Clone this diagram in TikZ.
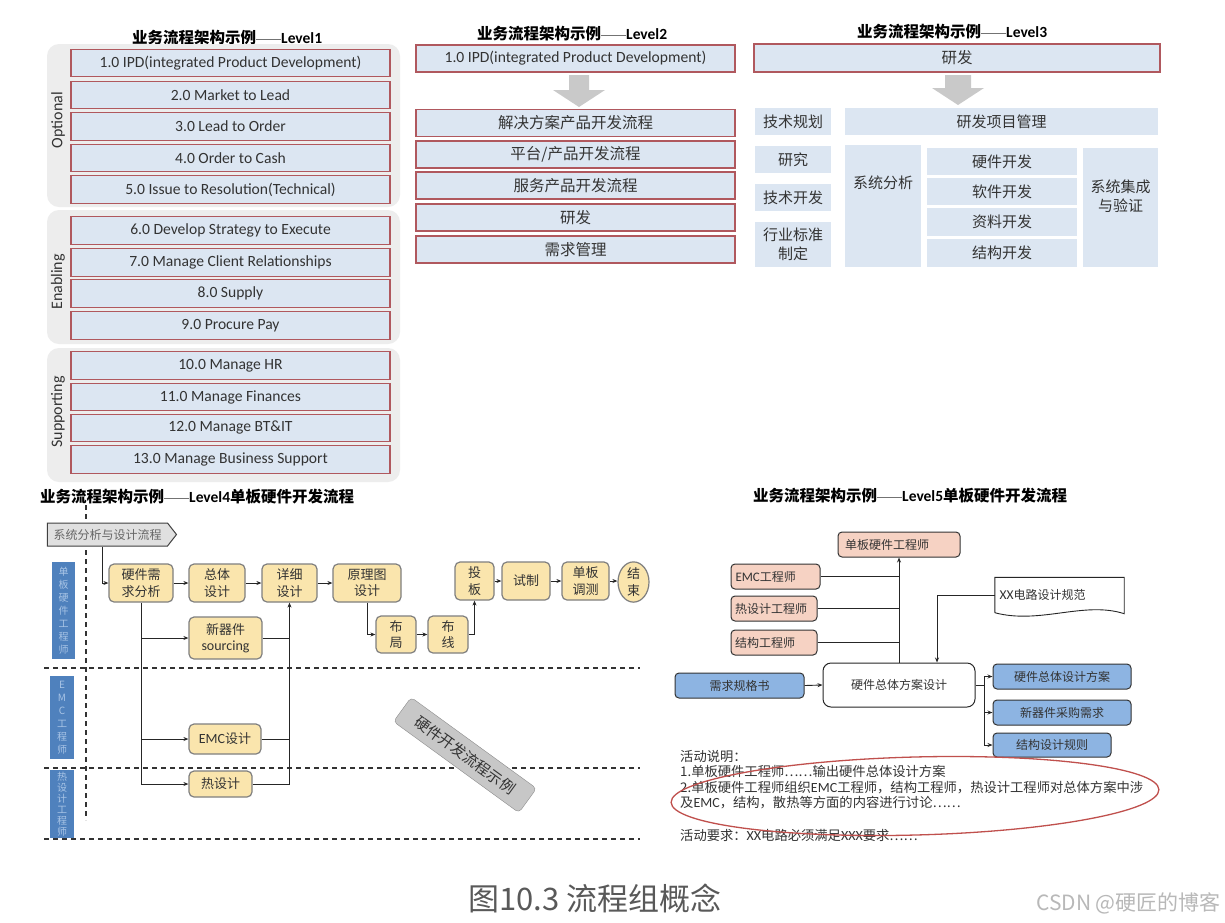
\documentclass[tikz,border=0pt]{standalone}
\usepackage{fontspec}
\setmainfont{Noto Sans CJK SC}
\newfontfamily\lat{Carlito}
\usetikzlibrary{shapes.geometric,shapes.symbols,arrows.meta,calc}

\definecolor{grpbg}{HTML}{EDEDED}
\definecolor{boxblue}{HTML}{DCE6F2}
\definecolor{boxred}{HTML}{B0585E}
\definecolor{arrgray}{HTML}{C9C9C9}
\definecolor{flowfill}{HTML}{FAE5AD}
\definecolor{flowline}{HTML}{7F7F7F}
\definecolor{lanefill}{HTML}{4F81BD}
\definecolor{lanetext}{HTML}{A8C4E6}
\definecolor{pinkfill}{HTML}{F6D2C3}
\definecolor{outblue}{HTML}{8DB4E2}
\definecolor{ellred}{HTML}{C0504D}
\definecolor{txtgray}{HTML}{333333}

\newcommand\fs[2]{\fontsize{#1}{#2}\selectfont}
\newcommand\lvtitle[2]{{\fs{15.5}{18}\bfseries 业务流程架构示例}\textcolor{black!55}{\rule[4.5pt]{25pt}{0.7pt}}{\lat\bfseries\fs{15.5}{18}Level#1}{\fs{15.5}{18}\bfseries #2}}

\begin{document}
\begin{tikzpicture}[x=1pt,y=-1pt,
  title/.style={anchor=west, inner sep=0pt},
  grplabel/.style={rotate=90, font=\lat\fs{16}{18}, text=txtgray, inner sep=0pt},
  l1box/.style={draw=boxred, line width=1.1pt, fill=boxblue, minimum width=319pt,
    minimum height=27.5pt, inner sep=0pt, font=\lat\fs{15.6}{18}, text=txtgray},
  l2box/.style={l1box, font=\fs{15.5}{18}},
  l3blk/.style={fill=boxblue, draw=none, inner sep=0pt, font=\fs{15}{19},
    text=txtgray, align=center},
  flow/.style={draw=flowline, line width=1.2pt, fill=flowfill, rounded corners=5pt,
    inner sep=0pt, font=\fs{13}{16.5}, align=center, text=txtgray},
  lane/.style={fill=lanefill, draw=none, inner sep=0pt, align=center, text=lanetext},
  swim/.style={dashed, dash pattern=on 5pt off 4pt, line width=1.1pt, black!80},
  conn/.style={line width=0.9pt, draw=black!85},
  arr/.style={conn, -{Stealth[length=5pt,width=4pt]}},
  pinkbox/.style={draw=black!80, line width=1pt, fill=pinkfill, rounded corners=4pt,
    inner sep=0pt, font=\fs{12}{14}, text=txtgray, align=left},
  outbox/.style={draw=black!80, line width=1pt, fill=outblue, rounded corners=4pt,
    inner sep=0pt, font=\fs{12}{14}, text=txtgray},
  note/.style={anchor=west, inner sep=0pt, font=\fs{13.3}{15}, text=txtgray}]

\useasboundingbox[fill=white] (0,0) rectangle (1225,922);

%% ---------------- Level 1 ----------------
\node[title] (t1) at (132,38) {\lvtitle{1}{}};
\fill[grpbg, rounded corners=12pt] (47,44) rectangle (400,207);
\fill[grpbg, rounded corners=12pt] (47,210) rectangle (400,344);
\fill[grpbg, rounded corners=12pt] (47,348) rectangle (400,482);
\node[grplabel] (gopt) at (58,120) {Optional};
\node[grplabel] (genb) at (58,282) {Enabling};
\node[grplabel] (gsup) at (58,412) {Supporting};

\node[l1box] (p1)  at (230.5,63)    {1.0 IPD(integrated Product Development)};
\node[l1box] (p2)  at (230.5,95)    {2.0 Market to Lead};
\node[l1box] (p3)  at (230.5,126.5) {3.0 Lead to Order};
\node[l1box] (p4)  at (230.5,158)   {4.0 Order to Cash};
\node[l1box] (p5)  at (230.5,189.5) {5.0 Issue to Resolution(Technical)};
\node[l1box] (p6)  at (230.5,230.5) {6.0 Develop Strategy to Execute};
\node[l1box] (p7)  at (230.5,262.5) {7.0 Manage Client Relationships};
\node[l1box] (p8)  at (230.5,293.5) {8.0 Supply};
\node[l1box] (p9)  at (230.5,325.5) {9.0 Procure Pay};
\node[l1box] (p10) at (230.5,365.5) {10.0 Manage HR};
\node[l1box] (p11) at (230.5,397)   {11.0 Manage Finances};
\node[l1box] (p12) at (230.5,428)   {12.0 Manage BT\&IT};
\node[l1box] (p13) at (230.5,459.5) {13.0 Manage Business Support};

%% ---------------- Level 2 ----------------
\node[title] (t2) at (477,34) {\lvtitle{2}{}};
\node[l1box, minimum height=27pt] (q0) at (575.5,58.5) {1.0 IPD(integrated Product Development)};
\fill[arrgray] (569,75) -- (589,75) -- (589,90) -- (605,90) -- (579,107) -- (553,90) -- (569,90) -- cycle;
\node[l2box, minimum height=27pt] (q1) at (575.5,123)   {解决方案产品开发流程};
\node[l2box, minimum height=27pt] (q2) at (575.5,154.5) {平台/产品开发流程};
\node[l2box, minimum height=27pt] (q3) at (575.5,185.5) {服务产品开发流程};
\node[l2box, minimum height=27pt] (q4) at (575.5,217.5) {研发};
\node[l2box, minimum height=27pt] (q5) at (575.5,249.5) {需求管理};

%% ---------------- Level 3 ----------------
\node[title] (t3) at (857,32) {\lvtitle{3}{}};
\node[l2box, minimum width=406pt, minimum height=28pt] (r0) at (957,58) {研发};
\fill[arrgray] (945,75) -- (971,75) -- (971,88) -- (984,88) -- (958,105) -- (932,88) -- (945,88) -- cycle;
\node[l3blk, minimum width=76pt, minimum height=27pt] (r1) at (793,121.5) {技术规划};
\node[l3blk, minimum width=76pt, minimum height=27pt] (r2) at (793,159.5) {研究};
\node[l3blk, minimum width=76pt, minimum height=27pt] (r3) at (793,197.5) {技术开发};
\node[l3blk, minimum width=76pt, minimum height=45pt] (r4) at (793,244.5) {行业标准\\制定};
\node[l3blk, minimum width=313pt, minimum height=27pt] (r5) at (1001.5,121.5) {研发项目管理};
\node[l3blk, minimum width=76pt, minimum height=122pt] (r6) at (883,206) {};
\node[inner sep=0pt, font=\fs{15}{19}, text=txtgray] (r6t) at (883,183) {系统分析};
\node[l3blk, minimum width=150pt, minimum height=27pt] (r7)  at (1002,161.5) {硬件开发};
\node[l3blk, minimum width=150pt, minimum height=27pt] (r8)  at (1002,191.5) {软件开发};
\node[l3blk, minimum width=150pt, minimum height=28pt] (r9)  at (1002,222)   {资料开发};
\node[l3blk, minimum width=150pt, minimum height=28pt] (r10) at (1002,253)   {结构开发};
\node[l3blk, minimum width=75pt, minimum height=119pt] (r11) at (1120.5,207.5) {};
\node[inner sep=0pt, font=\fs{15}{19}, text=txtgray, align=center] (r11t) at (1120.5,196) {系统集成\\与验证};

%% ---------------- Level 4 ----------------
\node[title] (t4) at (40,497) {\lvtitle{4}{单板硬件开发流程}};
\draw[swim] (86,505) -- (86,820);
\draw[swim] (44,668) -- (640,668);
\draw[swim] (44,768) -- (640,768);
\draw[swim] (44,839) -- (640,839);

\node[signal, signal to=east, signal pointer angle=104, draw=black!75, line width=1pt,
  fill=black!12, minimum width=129pt, minimum height=23pt, inner sep=0pt,
  font=\fs{12}{14}, text=black!60] (sa) at (107.5,534.5) {系统分析与设计流程};

\node[lane, minimum width=23pt, minimum height=97pt, font=\fs{10}{13}] (ln1) at (63.5,610.5)
  {单\\板\\硬\\件\\工\\程\\师};
\node[lane, minimum width=24pt, minimum height=83pt, font=\fs{10}{13}] (ln2) at (62,717.5)
  {E\\M\\C\\工\\程\\师};
\node[lane, minimum width=24pt, minimum height=68pt, font=\fs{10}{11}] (ln3) at (62,804)
  {热\\设\\计\\工\\程\\师};

\node[flow, minimum width=64pt, minimum height=38pt] (hw)  at (141,583)   {硬件需\\求分析};
\node[flow, minimum width=56pt, minimum height=38pt] (zt)  at (217,583)   {总体\\设计};
\node[flow, minimum width=55pt, minimum height=38pt] (xx)  at (289.5,583) {详细\\设计};
\node[flow, minimum width=68pt, minimum height=38pt] (yl)  at (367,583)   {原理图\\设计};
\node[flow, minimum width=40pt, minimum height=37pt] (bj)  at (396,634.5) {布\\局};
\node[flow, minimum width=40pt, minimum height=37pt] (bx)  at (448,634.5) {布\\线};
\node[flow, minimum width=39pt, minimum height=38pt] (tb)  at (474.5,581) {投\\板};
\node[flow, minimum width=48pt, minimum height=38pt] (sz)  at (526,581)   {试制};
\node[flow, minimum width=47pt, minimum height=38pt] (dt)  at (585.5,581) {单板\\调测};
\node[flow, ellipse, minimum width=31pt, minimum height=36pt] (js) at (633.5,582) {结\\束};
\node[flow, minimum width=73pt, minimum height=42pt] (xqj) at (225.5,638) {新器件\\{\lat\fs{14}{16.5}sourcing}};
\node[flow, minimum width=72pt, minimum height=30pt] (emc) at (225,739)   {{\lat\fs{14}{16}EMC}设计};
\node[flow, minimum width=63pt, minimum height=26pt] (rsj) at (220.5,784) {热设计};

\draw[arr] ([xshift=-5.5pt]sa.south) |- (hw.west);
\draw[arr] (hw) -- (zt);
\draw[arr] (zt) -- (xx);
\draw[arr] (xx) -- (yl);
\draw[arr] (hw.south) |- (rsj.west);
\draw[arr] (hw.south |- xqj.west) -- (xqj.west);
\draw[arr] (hw.south |- emc.west) -- (emc.west);
\draw[arr] (rsj.east) -| (xx.south);
\draw[conn] (xqj.east) -- (xqj.east -| xx.south);
\draw[conn] (emc.east) -- (emc.east -| xx.south);
\draw[arr] (yl.south) |- (bj.west);
\draw[arr] (bj) -- (bx);
\draw[arr] (bx.east) -| (tb.south);
\draw[arr] (tb) -- (sz);
\draw[arr] (sz) -- (dt);
\draw[arr] (dt.east) -- (js.west |- dt.east);

\node[draw=black!45, fill=black!22, rounded corners=4pt, rotate=-36, minimum width=155pt,
  minimum height=30pt, inner sep=0pt, font=\fs{15}{18}, text=txtgray] (tag) at (465,755)
  {硬件开发流程示例};

%% ---------------- Level 5 ----------------
\node[title] (t5) at (753,496) {\lvtitle{5}{单板硬件开发流程}};
\node[pinkbox, minimum width=122pt, minimum height=25pt, text width=108pt] (ep) at (899,544.5) {单板硬件工程师};
\node[pinkbox, minimum width=89pt, minimum height=25pt, text width=80pt] (ee) at (775.5,576.5) {{\lat\fs{13}{14}EMC}工程师};
\node[pinkbox, minimum width=86pt, minimum height=25pt, text width=78pt] (te) at (774,608.5) {热设计工程师};
\node[pinkbox, minimum width=86pt, minimum height=25pt, text width=78pt] (se) at (774,642.5) {结构工程师};

\node[inner sep=0pt, minimum width=129pt, minimum height=35pt, text width=120pt, align=left,
  font=\fs{12}{14}, text=txtgray] (doc) at (1059.5,595) {{\lat\fs{13.5}{14}XX}电路设计规范};
\draw[line width=0.9pt, black!85] (doc.south west) -- (doc.north west) -- (doc.north east)
  -- ([yshift=-1pt]doc.south east)
  .. controls ($(doc.south east)+(-40,-12)$) and ($(doc.south west)+(45,12)$) .. (doc.south west);

\node[draw=black!85, line width=1pt, fill=white, rounded corners=8pt, minimum width=152pt,
  minimum height=44pt, inner sep=0pt, font=\fs{12}{14}, text=txtgray] (fa) at (899,685) {硬件总体方案设计};
\node[outbox, minimum width=129pt, minimum height=25pt] (xq) at (739.5,685.5) {需求规格书};
\node[outbox, minimum width=138pt, minimum height=25pt] (o1) at (1062,676.5) {硬件总体设计方案};
\node[outbox, minimum width=138pt, minimum height=25pt] (o2) at (1062,712.5) {新器件采购需求};
\node[outbox, minimum width=118pt, minimum height=24pt] (o3) at (1052,745)   {结构设计规则};

\draw[arr] (fa.north) -- (ep.south);
\draw[conn] (ee.east) -- (ee.east -| fa.north);
\draw[conn] (te.east) -- (te.east -| fa.north);
\draw[conn] (se.east) -- (se.east -| fa.north);
\draw[arr] (doc.west) -| ([xshift=38pt]fa.north);
\draw[arr] (xq.east) -- (fa.west);
\coordinate (br) at (984,685);
\draw[conn] (fa.east) -- (br);
\draw[arr] (br) |- (o1.west);
\draw[arr] (br) |- (o2.west);
\draw[arr] (br) |- (o3.west);

\node[note] (n0) at (680,756) {活动说明：};
\node[note] (n1) at (680,771) {1.单板硬件工程师……输出硬件总体设计方案};
\node[note] (n2) at (680,788) {2.单板硬件工程师组织{\lat\fs{14}{15}EMC}工程师，结构工程师，热设计工程师对总体方案中涉};
\node[note] (n3) at (680,803) {及{\lat\fs{14}{15}EMC}，结构，散热等方面的内容进行讨论……};
\node[note] (n4) at (680,835) {活动要求：{\lat\fs{14}{15}XX}电路必须满足{\lat\fs{14}{15}XXX}要求……};
\node[ellipse, draw=ellred, line width=1.3pt, rotate=1.5, minimum width=488pt,
  minimum height=78pt, inner sep=0pt] (ring) at (915,796) {};

%% ---------------- caption ----------------
\node[inner sep=0pt, font=\fs{31}{34}, text=black!65] (cap) at (595,898) {图10.3 流程组概念};
\node[anchor=east, inner sep=0pt, font=\fs{21}{24}, text=black!28] (wm) at (1221,903) {CSDN @硬匠的博客};
\end{tikzpicture}
\end{document}
